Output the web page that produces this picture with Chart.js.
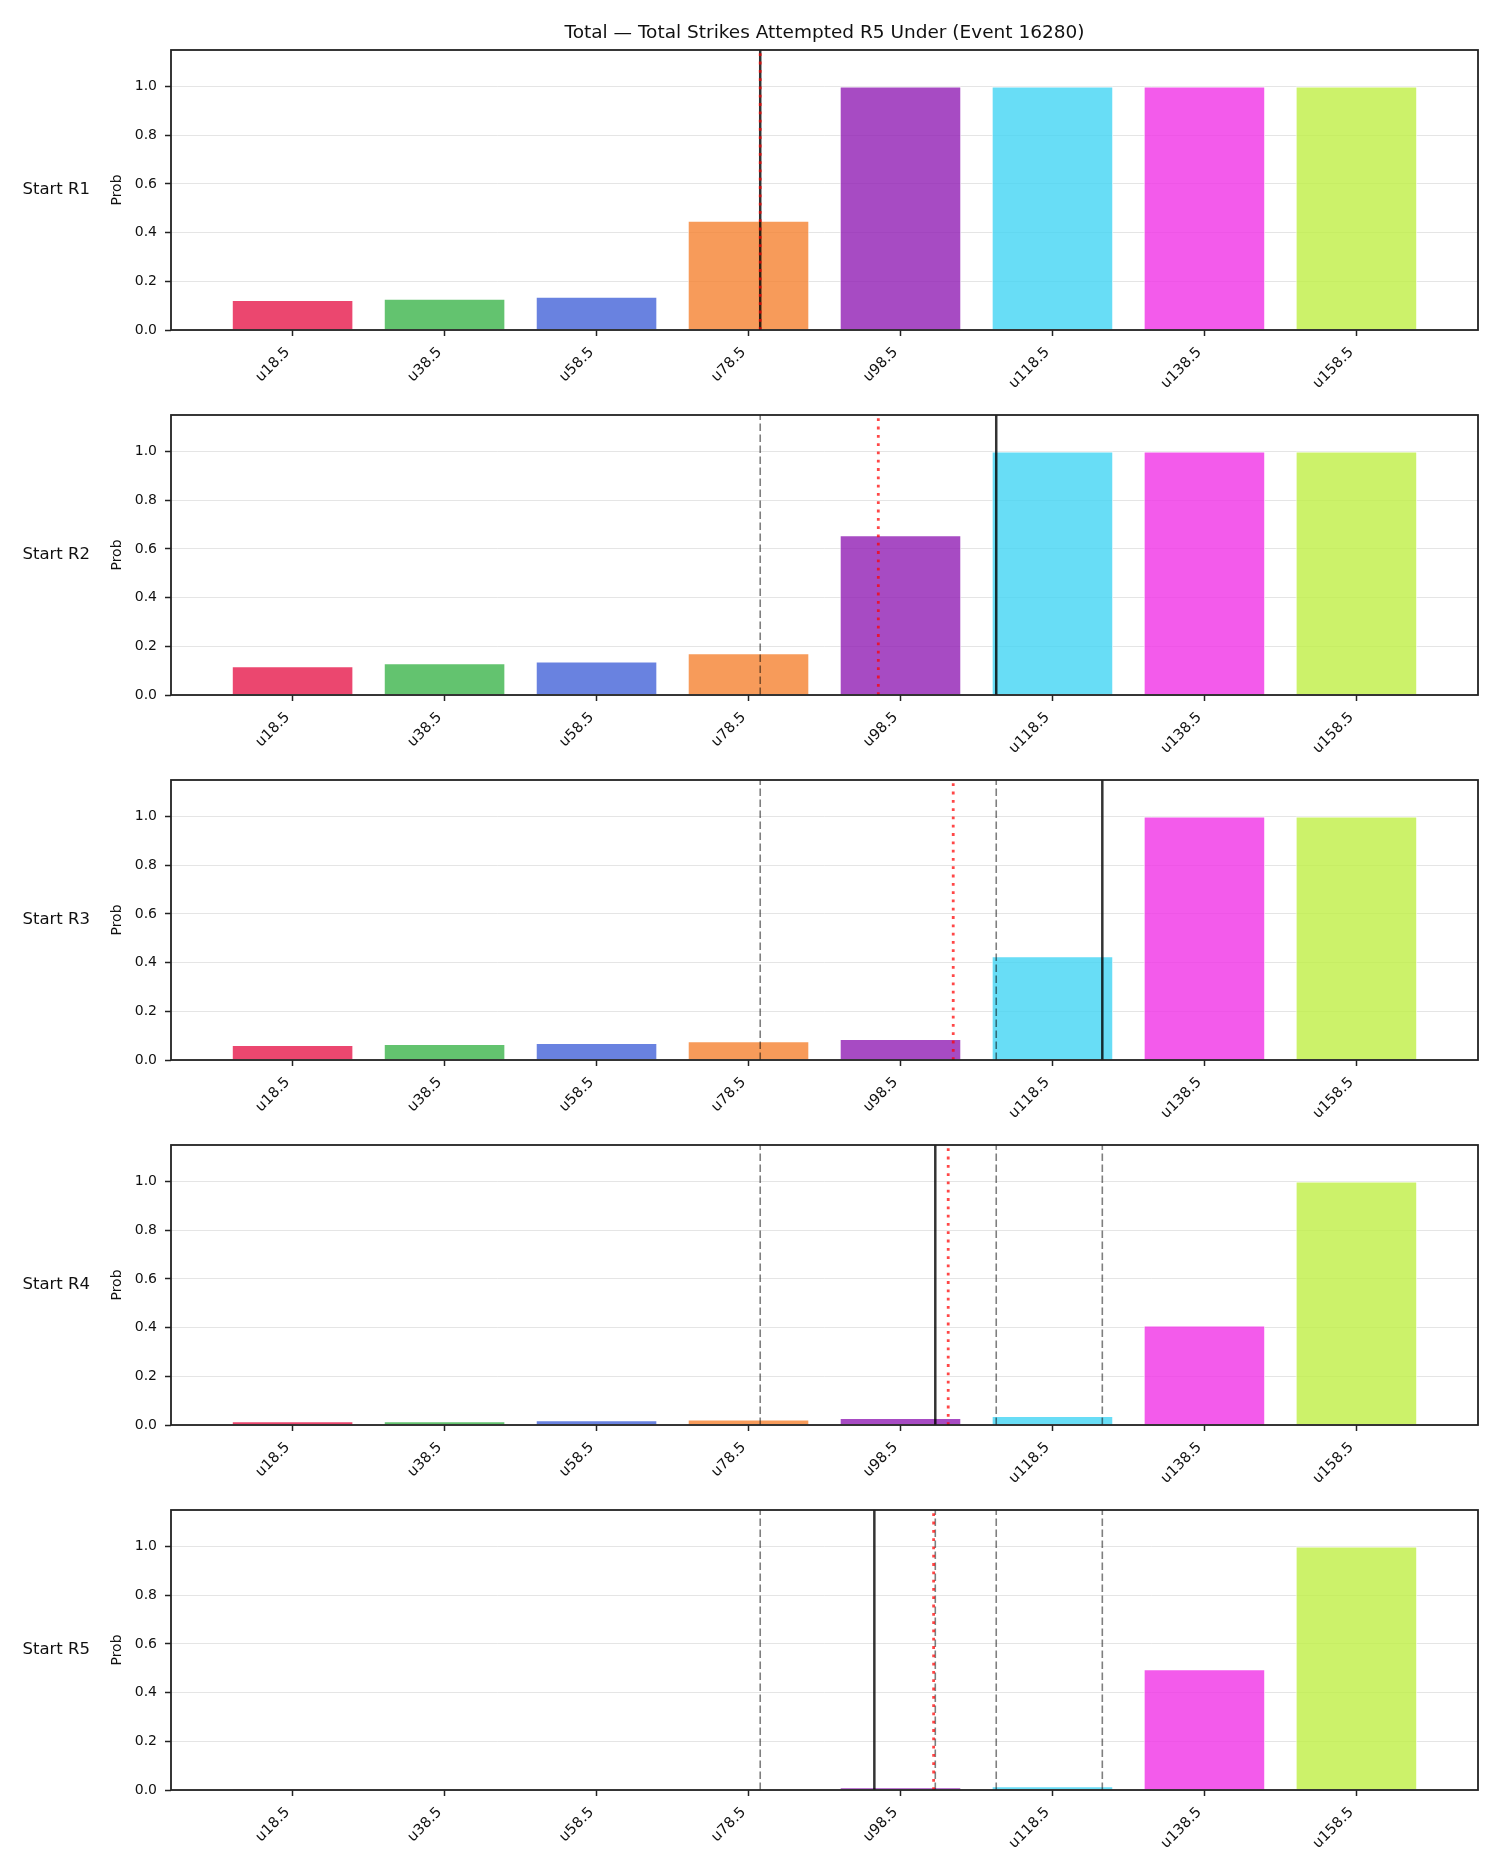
<!DOCTYPE html>
<html>
<head>
<meta charset="utf-8">
<script src="https://cdn.jsdelivr.net/npm/chart.js@4.4.1/dist/chart.umd.min.js"></script>
<style>
  body { margin: 0; background: #fff; }
  #wrap { position: relative; width: 1500px; height: 1875px; }
  #wrap canvas { position: absolute; left: 0; }
</style>
</head>
<body>
<div id="wrap"></div>
<script>
const TITLE = "Total — Total Strikes Attempted R5 Under (Event 16280)"
const categories = ["u18.5", "u38.5", "u58.5", "u78.5", "u98.5", "u118.5", "u138.5", "u158.5"]
const rowLabels = ["Start R1", "Start R2", "Start R3", "Start R4", "Start R5"]

// probability of each "under" line, one array per starting round
const probR1 = [0.123, 0.128, 0.137, 0.449, 1.0, 1.0, 1.0, 1.0]
const probR2 = [0.118, 0.130, 0.138, 0.171, 0.656, 1.0, 1.0, 1.0]
const probR3 = [0.062, 0.066, 0.070, 0.077, 0.086, 0.426, 1.0, 1.0]
const probR4 = [0.015, 0.015, 0.019, 0.023, 0.029, 0.037, 0.409, 1.0]
const probR5 = [0.0005, 0.0008, 0.002, 0.003, 0.011, 0.015, 0.496, 1.0]
const probs = [probR1, probR2, probR3, probR4, probR5]

// vertical markers, in category units
const projectedLine = [3.077, 4.630, 5.328, 4.229, 3.828]   // solid black
const marketLine = [3.077, 3.854, 4.347, 4.314, 4.218]      // red dotted
// earlier rounds' projections are shown dashed

const barColors = [
  "rgba(230,25,75,0.8)", "rgba(60,180,75,0.8)", "rgba(67,99,216,0.8)", "rgba(245,130,49,0.8)",
  "rgba(145,30,180,0.8)", "rgba(66,212,244,0.8)", "rgba(240,50,230,0.8)", "rgba(191,239,69,0.8)"
]

const Y_MAX = 1.15
const FONT = "DejaVu Sans"

const panelDecor = {
  id: "panelDecor",
  afterDraw(chart, args, opts){
    const {ctx, chartArea: a} = chart
    const midY = (a.top + a.bottom) / 2
    ctx.save()
    ctx.strokeStyle = "#222"
    ctx.lineWidth = 1.8
    ctx.strokeRect(a.left, a.top, a.right - a.left, a.bottom - a.top)

    ctx.fillStyle = "#111"
    ctx.textBaseline = "middle"
    ctx.font = `16.5px "${FONT}"`
    ctx.textAlign = "right"
    ctx.fillText(opts.row, 90, midY)

    if(opts.title){
      ctx.font = `18.5px "${FONT}"`
      ctx.textAlign = "center"
      ctx.fillText(opts.title, (a.left + a.right) / 2, 33)
    }

    ctx.font = `14px "${FONT}"`
    ctx.translate(117, midY)
    ctx.rotate(-Math.PI / 2)
    ctx.textAlign = "center"
    ctx.fillText("Prob", 0, 0)
    ctx.restore()
  }
}

function vline(x, color, width, dash, order){
  return {
    type: "line",
    data: [{x: x, y: 0}, {x: x, y: Y_MAX}],
    borderColor: color,
    borderWidth: width,
    borderDash: dash,
    pointRadius: 0,
    fill: false,
    order: order
  }
}

function makePanel(i){
  const wrap = document.querySelector("#wrap")
  const canvas = document.createElement("canvas")
  canvas.width = 1500
  canvas.height = 400
  canvas.style.top = `${i * 365}px`
  wrap.appendChild(canvas)

  const datasets = [{
    type: "bar",
    data: probs[i].map((v, k) => ({x: k, y: v})),
    backgroundColor: barColors,
    borderColor: "rgba(255,255,255,0.9)",
    borderWidth: 1,
    borderSkipped: "start",
    categoryPercentage: 1,
    barPercentage: 0.8,
    order: 10
  }]
  for(const x of projectedLine.slice(0, i)){
    datasets.push(vline(x, "rgba(0,0,0,0.5)", 1.6, [7.5, 3.5], 3))
  }
  datasets.push(vline(projectedLine[i], "rgba(0,0,0,0.8)", 2.5, [], 2))
  datasets.push(vline(marketLine[i], "rgba(255,0,0,0.72)", 2.8, [2.8, 5.5], 1))

  return new Chart(canvas, {
    type: "bar",
    data: {datasets: datasets},
    options: {
      responsive: false,
      animation: false,
      devicePixelRatio: 1,
      layout: {padding: {left: 0, right: 22, top: 50, bottom: 0}},
      plugins: {
        legend: {display: false},
        tooltip: {enabled: false},
        panelDecor: {row: rowLabels[i], title: i === 0 ? TITLE : null}
      },
      scales: {
        x: {
          type: "linear",
          min: -0.8,
          max: 7.8,
          offset: false,
          afterFit: s => { s.height = 70 },
          ticks: {
            stepSize: 1,
            includeBounds: false,
            autoSkip: false,
            minRotation: 45,
            maxRotation: 45,
            padding: 8,
            labelOffset: -5,
            color: "#111",
            font: {family: FONT, size: 14.5},
            callback: v => categories[v] ?? ""
          },
          grid: {drawOnChartArea: false, offset: false, tickLength: 6, tickColor: "#222", tickWidth: 1.5},
          border: {display: false}
        },
        y: {
          min: 0,
          max: Y_MAX,
          z: 1,
          afterFit: s => { s.width = 171 },
          ticks: {
            stepSize: 0.2,
            includeBounds: false,
            padding: 8,
            color: "#111",
            font: {family: FONT, size: 14},
            callback: v => v.toFixed(1)
          },
          grid: {color: "rgba(190,190,190,0.4)", lineWidth: 1, tickLength: 6, tickColor: "#222", tickWidth: 1.5},
          border: {display: false}
        }
      }
    },
    plugins: [panelDecor]
  })
}

for(let i = 0; i < probs.length; i++){
  makePanel(i)
}
</script>
</body>
</html>
